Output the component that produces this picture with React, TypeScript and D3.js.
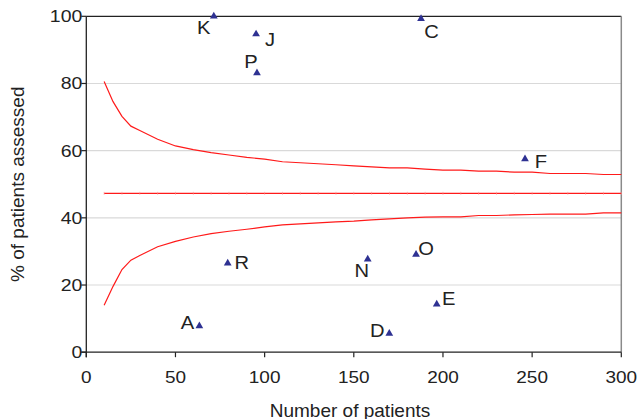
import React from "react";
import * as d3 from "d3";

const nValues = [10, 15, 20, 25, 30, 40, 50, 60, 70, 80, 90, 100, 110, 120, 130, 140, 150, 160, 170, 180, 190, 200, 210, 220, 230, 240, 250, 260, 270, 280, 290, 300];
const upperLimit = [80.6, 74.6, 70.2, 67.3, 66.0, 63.4, 61.4, 60.3, 59.4, 58.7, 58.0, 57.5, 56.7, 56.4, 56.1, 55.8, 55.5, 55.2, 54.9, 54.9, 54.5, 54.2, 54.2, 53.9, 53.9, 53.6, 53.6, 53.2, 53.2, 53.2, 52.9, 52.9];
const lowerLimit = [14.0, 19.6, 24.6, 27.4, 28.8, 31.4, 33.0, 34.3, 35.3, 36.0, 36.6, 37.3, 37.9, 38.2, 38.5, 38.8, 39.0, 39.4, 39.7, 40.0, 40.2, 40.3, 40.3, 40.7, 40.7, 40.9, 41.0, 41.1, 41.1, 41.1, 41.5, 41.5];
const meanValue = 47.3;
const meanTickN = [10, 20, 30, 40, 50, 60, 70, 80, 90, 100, 110, 120, 130, 140, 150, 160, 170, 180, 190, 200, 210, 220, 230, 240, 250, 260, 270, 280, 290, 300];

const unitNames = ["K", "J", "P", "C", "F", "R", "A", "N", "O", "E", "D"];
const unitPatients = [71.5, 95.2, 95.7, 187.7, 246.0, 79.3, 63.4, 157.8, 184.9, 196.5, 169.9];
const unitPercent = [100, 94.7, 83.1, 99.3, 57.5, 26.5, 7.8, 27.7, 29.1, 14.3, 5.6];

const xTicks = [0, 50, 100, 150, 200, 250, 300];
const yTicks = [0, 20, 40, 60, 80, 100];
const gridTicks = [20, 40, 60, 80];

// label placement offsets (px) relative to marker
const labelOffsets: Record<string, [number, number]> = {
  K: [-10, 11], J: [14, 5], P: [-6, -11.5], C: [10.5, 13], F: [16, 2.5],
  R: [14, -1], A: [-12, -3], N: [-6, 11.5], O: [10, -6], E: [12, -6], D: [-12, -3],
};

const W = 639, H = 419;
const M = { left: 86.3, right: 17.7, top: 16.3, bottom: 66.8 };

export default function App() {
  const x = d3.scaleLinear().domain([0, 300]).range([M.left, W - M.right]);
  const y = d3.scaleLinear().domain([0, 100]).range([H - M.bottom, M.top]);
  const line = d3.line<[number, number]>().x(d => x(d[0])).y(d => y(d[1]));
  const upperPts = nValues.map((n, i) => [n, upperLimit[i]] as [number, number]);
  const lowerPts = nValues.map((n, i) => [n, lowerLimit[i]] as [number, number]);
  const meanPts: [number, number][] = [[nValues[0], meanValue], [nValues[nValues.length - 1], meanValue]];
  const tri = d3.symbol().type(d3.symbolTriangle).size(26)();
  const font = "'Liberation Sans', Arial, sans-serif";
  const x0 = x(0), x1 = x(300), y0 = y(0), y1 = y(100);

  return (
    <svg width={W} height={H} style={{ position: "absolute", left: 0, top: 0, background: "#fff" }} fontFamily={font}>
      <rect x={0} y={0} width={W} height={H} fill="#fff" />
      {gridTicks.map(t => (
        <line key={t} x1={x0} x2={x1} y1={y(t)} y2={y(t)} stroke="#d9d9d9" strokeWidth={1.2} />
      ))}
      {/* frame */}
      <line x1={x0} x2={x1} y1={y1} y2={y1} stroke="#222" strokeWidth={1.2} />
      <line x1={x1} x2={x1} y1={y1} y2={y0} stroke="#8a8a8a" strokeWidth={1.5} />
      <line x1={x0} x2={x0} y1={y1} y2={y0 + 5} stroke="#222" strokeWidth={1.3} />
      <line x1={x0 - 5} x2={x1} y1={y0} y2={y0} stroke="#222" strokeWidth={1.3} />
      {yTicks.map(t => (
        <g key={t}>
          <line x1={x0 - 5} x2={x0} y1={y(t)} y2={y(t)} stroke="#222" strokeWidth={1.2} />
          <text transform={`translate(${x0 - 4},${y(t) + 6}) scale(1.18,1)`} textAnchor="end" fontSize={16.5} fill="#222">{t}</text>
        </g>
      ))}
      {xTicks.map(t => (
        <g key={t}>
          <line x1={x(t)} x2={x(t)} y1={y0} y2={y0 + 5} stroke="#222" strokeWidth={1.2} />
          <text transform={`translate(${x(t)},${y0 + 30.5}) scale(1.15,1)`} textAnchor="middle" fontSize={16.5} fill="#222">{t}</text>
        </g>
      ))}
      {/* funnel lines */}
      <path d={line(upperPts) || ""} fill="none" stroke="#ff1a1a" strokeWidth={1.2} />
      <path d={line(lowerPts) || ""} fill="none" stroke="#ff1a1a" strokeWidth={1.2} />
      <path d={line(meanPts) || ""} fill="none" stroke="#ff1a1a" strokeWidth={1.2} />
      {meanTickN.map(n => (
        <line key={n} x1={x(n)} x2={x(n)} y1={y(meanValue) - 1.5} y2={y(meanValue) + 1.5} stroke="#ff9090" strokeWidth={0.6} />
      ))}
      {/* units */}
      {unitNames.map((name, i) => {
        const cx = x(unitPatients[i]), cy = y(unitPercent[i]);
        const [dx, dy] = labelOffsets[name];
        return (
          <g key={name}>
            <path d={tri || ""} transform={`translate(${cx},${cy})`} fill="#2e3192" />
            <text transform={`translate(${cx + dx},${cy + dy + 6.5}) scale(1.12,1)`} textAnchor="middle" fontSize={18} fill="#222">{name}</text>
          </g>
        );
      })}
      <text x={350} y={417} textAnchor="middle" fontSize={19} fill="#222">Number of patients</text>
      <text transform={`translate(24,${(y0 + y1) / 2}) rotate(-90)`} textAnchor="middle" fontSize={19} fill="#222">% of patients assessed</text>
    </svg>
  );
}
